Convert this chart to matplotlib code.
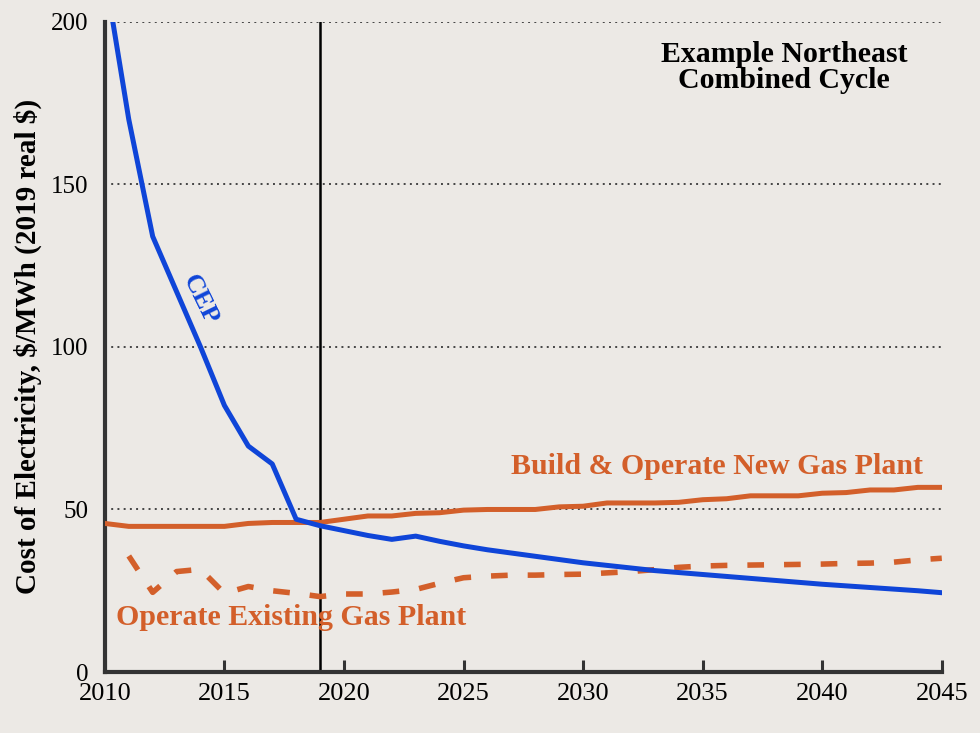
import matplotlib
matplotlib.use("Agg")
import matplotlib.pyplot as plt

# data
years = list(range(2010, 2046))

cep = [215, 170, 134, 117, 100, 82, 69.5, 64, 47, 45,
       43.5, 42, 40.8, 41.8, 40.2, 38.8, 37.6, 36.6, 35.6, 34.6,
       33.6, 32.8, 32.0, 31.2, 30.6, 30.0, 29.4, 28.8, 28.2, 27.6,
       27.0, 26.5, 26.0, 25.5, 25.0, 24.4]

new_gas = [45.7, 44.8, 44.8, 44.8, 44.8, 44.8, 45.7, 46, 46, 46,
           47, 48, 48, 48.8, 49, 49.8, 50, 50, 50, 50.8,
           51, 52, 52, 52, 52.2, 53, 53.3, 54.2, 54.2, 54.2,
           55, 55.2, 56, 56, 56.8, 56.8]

exist_years = list(range(2011, 2046))
exist_gas = [35.7, 24.5, 30.9, 31.6, 24.2, 26.3, 25, 24.2, 23.2,
             24, 24, 24.6, 25.4, 27.3, 29, 29.5, 29.8, 29.8, 30,
             30.1, 30.5, 30.9, 31.5, 32.2, 32.6, 32.8, 32.9, 33, 33.1,
             33.2, 33.4, 33.5, 33.8, 34.5, 35]

yticks = [0, 50, 100, 150, 200]
xticks = [2010, 2015, 2020, 2025, 2030, 2035, 2040, 2045]
marker_year = 2019

bg = '#ECE9E5'
orange = '#D35F2A'
blue = '#0F45D8'
serif = ['Liberation Serif', 'DejaVu Serif']

plt.rcParams['font.family'] = serif

fig = plt.figure(figsize=(9.8, 7.33), dpi=100, facecolor=bg)
ax = fig.add_axes([0.107, 0.0832, 0.854, 0.887], facecolor=bg)

for v in yticks[1:]:
    ax.axhline(v, color='#444444', linestyle=(0, (1, 2.2)), linewidth=1.4, zorder=1)

ax.plot([marker_year, marker_year], [0, 200], color='black', linewidth=1.8, zorder=2)

ax.plot(years, new_gas, color=orange, linewidth=3.6, solid_joinstyle='round', zorder=3)
ax.plot(exist_years, exist_gas, color=orange, linewidth=4.0, dashes=(3.0, 3.6), zorder=3)
ax.plot(years, cep, color=blue, linewidth=3.6, solid_joinstyle='round', zorder=4)

ax.set_xlim(2010, 2045)
ax.set_ylim(0, 200)
ax.set_xticks(xticks)
ax.set_yticks(yticks)
ax.tick_params(axis='x', direction='in', length=9, width=2.2, color='#333333',
               labelsize=19, pad=8)
ax.tick_params(axis='y', length=0, labelsize=18, pad=12)

for s in ['top', 'right']:
    ax.spines[s].set_visible(False)
for s in ['left', 'bottom']:
    ax.spines[s].set_linewidth(3)
    ax.spines[s].set_color('#333333')

ax.set_ylabel(r'Cost of Electricity, \$/MWh (2019 real \$)', fontsize=21,
              fontweight='bold', labelpad=6)

ax.text(2038.4, 186, 'Example Northeast\nCombined Cycle', ha='center', va='center',
        fontsize=21.5, fontweight='bold', color='black', linespacing=0.97)
ax.text(2035.6, 63.1, 'Build & Operate New Gas Plant', ha='center', va='center',
        fontsize=21.5, fontweight='bold', color=orange)
ax.text(2017.8, 16.9, 'Operate Existing Gas Plant', ha='center', va='center',
        fontsize=21.5, fontweight='bold', color=orange)
ax.text(2014.0, 114.5, 'CEP', ha='center', va='center', rotation=-64,
        fontsize=19, fontweight='bold', color=blue)

fig.savefig('out.png', dpi=100, facecolor=bg)
